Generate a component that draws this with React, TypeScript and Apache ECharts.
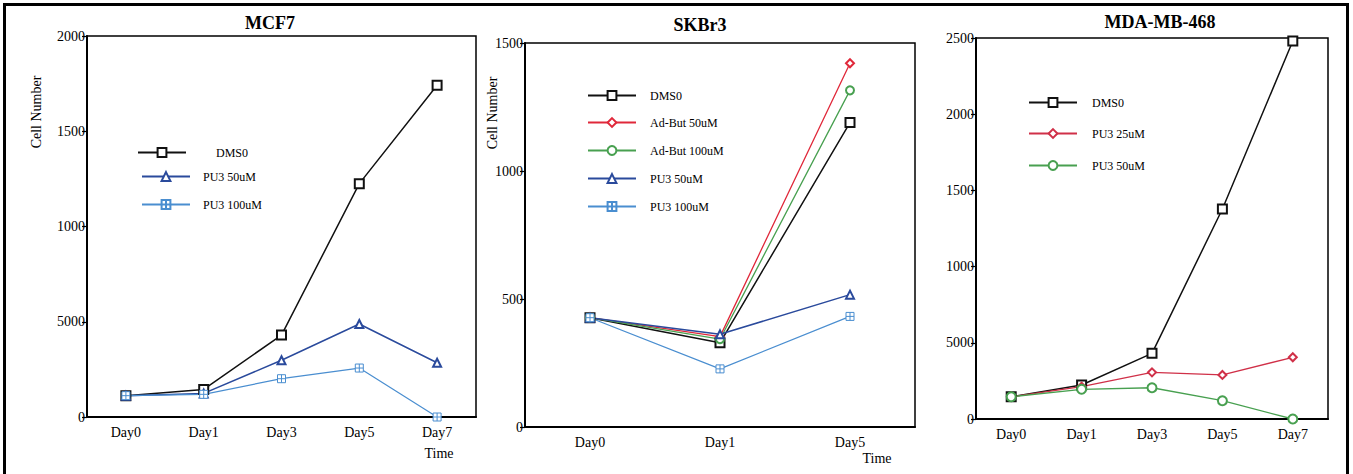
import React, { useEffect, useRef } from "react";
import * as echarts from "echarts";

const days1 = ["Day0", "Day1", "Day3", "Day5", "Day7"];
const days2 = ["Day0", "Day1", "Day5"];
const days3 = ["Day0", "Day1", "Day3", "Day5", "Day7"];

const yLabels1 = ["0", "5000", "1000", "1500", "2000"];
const yLabels2 = ["0", "500", "1000", "1500"];
const yLabels3 = ["0", "5000", "1000", "1500", "2000", "2500"];

const mcf7Dmso = [112, 145, 430, 1225, 1741];
const mcf7Pu50 = [112, 124, 298, 488, 285];
const mcf7Pu100 = [112, 119, 201, 257, 0];

const skDmso = [427, 329, 1189];
const skAd50 = [427, 353, 1421];
const skAd100 = [427, 343, 1315];
const skPu50 = [427, 362, 517];
const skPu100 = [427, 227, 432];

const mdaDmso = [146, 223, 431, 1378, 2480];
const mdaPu25 = [146, 212, 306, 289, 405];
const mdaPu50 = [146, 195, 205, 120, 0];

const FONT = "'Liberation Serif', 'DejaVu Serif', serif";
const BLACK = "#111";
const RED = "#e0283a";
const RED3 = "#d03048";
const GREEN = "#48a050";
const DBLUE = "#2a4a9c";
const LBLUE = "#4a8ed0";
const CROSS = "path://M0,0L10,0L10,10L0,10Z M5,0L5,10 M0,5L10,5";

export default function App() {
  const ref = useRef<HTMLDivElement>(null);
  useEffect(() => {
    if (!ref.current) return;
    const chart = echarts.init(ref.current, undefined, { renderer: "svg" });

    const grids = [
      { left: 87, top: 36, width: 389, height: 381 },
      { left: 525, top: 43, width: 390, height: 384 },
      { left: 976, top: 38, width: 352, height: 381 },
    ].map((g) => ({ ...g, show: true, borderColor: "#000", borderWidth: 1.5, containLabel: false }));

    const xCats = [days1, days2, days3];
    const xAxis = xCats.map((cats, i) => ({
      type: "category",
      gridIndex: i,
      data: cats,
      boundaryGap: true,
      axisLine: { lineStyle: { color: "#000", width: 2 } },
      axisTick: { alignWithLabel: true, length: 5, lineStyle: { color: "#000", width: 1.2 } },
      axisLabel: { color: "#000", fontFamily: FONT, fontSize: 14, margin: 8 },
      splitLine: { show: false },
    }));

    const yCfg = [
      { max: 2000, interval: 500, labels: yLabels1 },
      { max: 1500, interval: 500, labels: yLabels2 },
      { max: 2500, interval: 500, labels: yLabels3 },
    ];
    const yAxis = yCfg.map((c, i) => ({
      type: "value",
      gridIndex: i,
      min: 0,
      max: c.max,
      interval: c.interval,
      axisLine: { show: true, lineStyle: { color: "#000", width: 2 } },
      axisTick: { show: true, length: 5, lineStyle: { color: "#000", width: 1.2 } },
      axisLabel: {
        color: "#000",
        fontFamily: FONT,
        fontSize: 14,
        margin: 2,
        formatter: (v: number) => c.labels[Math.round(v / c.interval)] ?? String(v),
      },
      splitLine: { show: false },
    }));

    const mk = (
      name: string,
      grid: number,
      data: number[],
      color: string,
      symbol: string,
      size: number,
      width = 1.3
    ) => ({
      name,
      type: "line",
      xAxisIndex: grid,
      yAxisIndex: grid,
      data,
      symbol,
      symbolSize: size,
      showSymbol: true,
      lineStyle: { color, width },
      itemStyle: symbol.startsWith("path")
        ? { color: "#fff", borderColor: color, borderWidth: 1 }
        : { color, borderWidth: 1.2 },
      z: 3,
    });

    const series = [
      mk("p1|DMS0", 0, mcf7Dmso, BLACK, "emptyRect", 9, 1.5),
      mk("p1|PU3 50uM", 0, mcf7Pu50, DBLUE, "emptyTriangle", 8, 1.5),
      mk("p1|PU3 100uM", 0, mcf7Pu100, LBLUE, CROSS, 8, 1.2),
      mk("p2|DMS0", 1, skDmso, BLACK, "emptyRect", 9, 1.5),
      mk("p2|Ad-But 50uM", 1, skAd50, RED, "emptyDiamond", 8, 1.3),
      mk("p2|Ad-But 100uM", 1, skAd100, GREEN, "emptyCircle", 8, 1.3),
      mk("p2|PU3 50uM", 1, skPu50, DBLUE, "emptyTriangle", 8, 1.5),
      mk("p2|PU3 100uM", 1, skPu100, LBLUE, CROSS, 8, 1.2),
      mk("p3|DMS0", 2, mdaDmso, BLACK, "emptyRect", 9, 1.5),
      mk("p3|PU3 25uM", 2, mdaPu25, RED3, "emptyDiamond", 8, 1.3),
      mk("p3|PU3 50uM", 2, mdaPu50, GREEN, "emptyCircle", 9, 1.3),
    ];

    const legendItems: [string, number, number, number[]][] = [
      ["p1|DMS0", 137, 152, [0, 0, 20, 25]],
      ["p1|PU3 50uM", 141, 176, [0, 0, 0, 8]],
      ["p1|PU3 100uM", 141, 204, [0, 0, 0, 8]],
      ["p2|DMS0", 587, 95, [0, 0, 0, 9]],
      ["p2|Ad-But 50uM", 587, 122, [0, 0, 0, 9]],
      ["p2|Ad-But 100uM", 587, 150, [0, 0, 0, 9]],
      ["p2|PU3 50uM", 587, 178, [0, 0, 0, 9]],
      ["p2|PU3 100uM", 587, 206, [0, 0, 0, 9]],
      ["p3|DMS0", 1028, 102, [0, 0, 4, 10]],
      ["p3|PU3 25uM", 1028, 133, [0, 0, 0, 10]],
      ["p3|PU3 50uM", 1028, 165, [0, 0, 0, 10]],
    ];
    const legend = legendItems.map(([name, x, y, pad]) => ({
      data: [name],
      left: x,
      top: y - 5.5,
      padding: 0,
      itemWidth: 48,
      itemHeight: 11,
      selectedMode: false,
      formatter: (n: string) => n.split("|")[1],
      textStyle: { color: "#000", fontFamily: FONT, fontSize: 12, padding: pad },
    }));

    const txt = (text: string, x: number, y: number, size: number, bold = false, rot = 0) => ({
      type: "text",
      x,
      y,
      rotation: rot,
      style: {
        text,
        fill: "#000",
        fontFamily: FONT,
        fontSize: size,
        fontWeight: bold ? "bold" : "normal",
        textAlign: "center",
        textVerticalAlign: "middle",
      },
      z: 10,
    });

    const graphic = [
      {
        type: "rect",
        shape: { x: 4.5, y: 4.5, width: 1343, height: 476 },
        style: { fill: "none", stroke: "#000", lineWidth: 3 },
        z: 10,
      },
      txt("MCF7", 270, 23, 18, true),
      txt("SKBr3", 700, 25, 18, true),
      txt("MDA-MB-468", 1160, 22, 18, true),
      txt("Cell Number", 36, 112, 14, false, Math.PI / 2),
      txt("Cell Number", 492, 113, 14, false, Math.PI / 2),
      txt("Time", 439, 453, 14),
      txt("Time", 877, 458, 14),
    ];

    chart.setOption({
      animation: false,
      backgroundColor: "#fff",
      grid: grids,
      xAxis,
      yAxis,
      series,
      legend,
      graphic,
    });
    return () => chart.dispose();
  }, []);
  return (
    <div
      ref={ref}
      style={{ position: "fixed", left: 0, top: 0, width: 1353, height: 474, background: "#fff" }}
    />
  );
}
